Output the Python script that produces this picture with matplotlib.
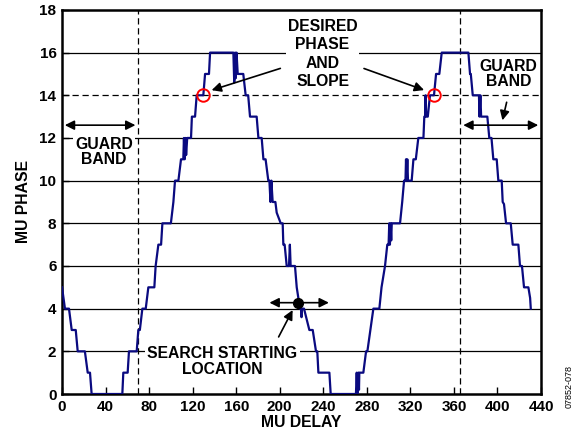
import matplotlib.pyplot as plt
import numpy as np

plt.rcParams['font.family'] = ['Liberation Sans', 'DejaVu Sans']
plt.rcParams['font.weight'] = 'bold'

mu_delay = [0, 2.7, 6.4, 8.9, 12.6, 14.4, 21, 23.6, 25.7, 27.2,
            55.4, 56.3, 60.3, 61.5, 68.6, 70.1, 71.5, 73.8, 76.9, 79.3,
            84.8, 86, 88.5, 91, 92.2, 100, 102.3, 103.8, 106.9, 109.3,
            111.4, 112, 112.6, 113.5, 114, 115, 118.5, 119.3, 122.2, 123.7,
            129.8, 131.4, 135, 136, 157.4, 158.2, 159, 159.5, 160.3, 161.4,
            166.5, 168.7, 171, 172.7, 178.8, 180.4, 183.4, 185, 187, 189.5,
            190.5, 191.5, 192.3, 193.5, 196, 197.2, 200.9, 202.7, 203.3, 204.5,
            206.4, 208.5, 209.3, 210, 214, 215.6, 218.6, 219.5, 220, 220.5,
            222.3, 227.2, 230.3, 233.3, 234.5, 235.5, 245.6, 246.8, 270, 270.7,
            271.3, 272.2, 272.8, 273.1, 276.8, 279.3, 280.5, 286, 291.5, 293.5,
            296.7, 298.8, 300, 300.6, 301.2, 301.8, 302.4, 302.9, 310.5, 312.5,
            314.2, 315.5, 316, 316.5, 317.2, 317.8, 321.2, 322.8, 325, 327.3,
            332, 332.8, 333.5, 334, 334.5, 336, 338, 341.7, 343.6, 346.6,
            348.8, 373.3, 374.8, 375.5, 377.3, 383, 383.5, 384.3, 385, 390.7,
            392.5, 394.5, 396.2, 399.3, 400.8, 403.9, 404.8, 406, 407.9, 412.2,
            414, 419.2, 420.7, 422.5, 424.4, 428.4, 430, 430.6]
mu_phase = [5, 4, 4, 3, 3, 2, 2, 1, 1, 0,
            0, 1, 1, 2, 2, 3, 3, 4, 4, 5,
            5, 6, 7, 7, 8, 8, 9, 10, 10, 11,
            11, 12, 11, 12, 11.2, 12, 12, 13, 13, 14,
            14, 15, 15, 16, 16, 14.6, 16, 14.8, 16, 15,
            15, 14, 14, 13, 13, 12, 12, 11, 11, 10,
            10, 9, 10, 9, 9, 8.5, 8, 8, 7, 7,
            6, 6, 7, 6, 6, 5, 4, 4, 3.6, 4,
            4, 3, 3, 2, 2, 1, 1, 0, 0, 1,
            0, 1, 0.2, 1, 1, 2, 2, 4, 4, 5,
            6, 7, 7, 8, 7, 8, 7.2, 8, 8, 9,
            10, 10, 11, 10, 11, 10, 10, 11, 11, 12,
            12, 13, 13, 14, 13, 13, 14, 14, 15, 15,
            16, 16, 15, 15, 14, 14, 13, 14, 13, 13,
            12, 12, 11, 11, 10, 10, 9, 8.9, 8, 8,
            7, 7, 6, 6, 5, 5, 4.5, 4]

desired_pts = [(129.2, 14), (341.7, 14)]
start_pt = (217.1, 4.28)
guard_lines = [70, 366]

fig = plt.figure(figsize=(5.78, 4.44), dpi=100)
ax = fig.add_axes([0.1073, 0.1126, 0.8287, 0.865])

# grid lines
for g in range(2, 18, 2):
    if g == 14:
        ax.axhline(g, color='black', lw=0.9, ls=(0, (5, 3)), zorder=1)
    else:
        ax.axhline(g, color='black', lw=0.9, zorder=1)
for gx in guard_lines:
    ax.axvline(gx, color='black', lw=0.9, ls=(0, (5, 3)), zorder=1)

ax.plot(mu_delay, mu_phase, color='#0a0a80', lw=1.6, zorder=3)

# red circles at desired phase
for px, py in desired_pts:
    ax.plot(px, py, 'o', ms=9, mfc='none', mec='red', mew=1.4, zorder=5)

# search start point
ax.plot(*start_pt, 'o', ms=7, color='black', zorder=6)

tkw = dict(fontsize=11.3, fontweight='bold', ha='center', va='center', zorder=4,
           bbox=dict(facecolor='white', edgecolor='none', pad=1.5), linespacing=1.05)
akw = dict(arrowstyle='-|>', color='black', lw=1.2, mutation_scale=14)
dkw = dict(arrowstyle='<|-|>', color='black', lw=1.2, mutation_scale=14)

# left guard band
ax.annotate('', xy=(0, 12.6), xytext=(70, 12.6), arrowprops=dkw, zorder=4)
ax.text(38.6, 11.35, 'GUARD\nBAND', **tkw)

# desired phase and slope
ax.text(239.3, 15.94, 'DESIRED\nPHASE\nAND\nSLOPE', **dict(tkw, linespacing=1.28))
ax.annotate('', xy=(135, 14.2), xytext=(203, 15.3), arrowprops=akw, zorder=4)
ax.annotate('', xy=(335, 14.2), xytext=(275, 15.3), arrowprops=akw, zorder=4)

# right guard band
ax.text(410, 15.0, 'GUARD\nBAND', **tkw)
ax.annotate('', xy=(366, 12.6), xytext=(440, 12.6), arrowprops=dkw, zorder=4)
ax.annotate('', xy=(404, 12.7), xytext=(409, 13.8), arrowprops=akw, zorder=4)

# search starting location
ax.annotate('', xy=(188, 4.28), xytext=(247.7, 4.28), arrowprops=dkw, zorder=5)
ax.text(147.4, 1.53, 'SEARCH STARTING\nLOCATION', **tkw)
ax.annotate('', xy=(213, 4.05), xytext=(197.8, 2.56), arrowprops=akw, zorder=5)

ax.set_xlim(0, 440)
ax.set_ylim(0, 18)
ax.set_xticks(np.arange(0, 441, 40))
ax.set_yticks(np.arange(0, 19, 2))
ax.tick_params(direction='in', length=5, width=1, labelsize=11, pad=4)
for lab in ax.get_xticklabels() + ax.get_yticklabels():
    lab.set_fontweight('bold')
for sp in ax.spines.values():
    sp.set_linewidth(1.8)

ax.set_xlabel('MU DELAY', fontsize=11.3, fontweight='bold', labelpad=1)
ax.set_ylabel('MU PHASE', fontsize=11.3, fontweight='bold', labelpad=6)

fig.text(0.985, 0.13, '07852-078', rotation=90, fontsize=6.5, fontweight='normal',
         ha='center', va='center')

fig.savefig('out.png', dpi=100)
